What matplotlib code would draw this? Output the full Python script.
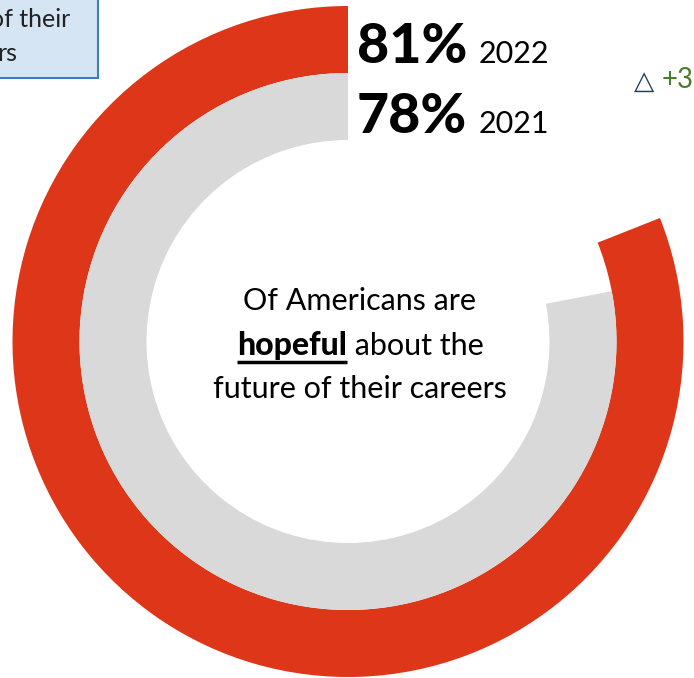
"""
Career outlook donut - share of Americans hopeful about their careers
"""
import matplotlib
matplotlib.use('Agg')
import matplotlib.pyplot as plt
from matplotlib.patches import Wedge, Rectangle

# Survey results (percent hopeful), outer ring first
years = ['2022', '2021']
values = [81, 78]
ring_colors = ['#de3619', '#d9d9d9']
delta_label = '+3'

W, H = 694, 678
fig = plt.figure(figsize=(W / 100, H / 100), dpi=100)
ax = fig.add_axes([0, 0, 1, 1])
ax.set_xlim(0, W)
ax.set_ylim(0, H)
ax.axis('off')

# ring geometry (pixels)
cx, cy = 348, H - 341.5
radii = [335.5, 268.5]
ring_w = 67

for val, r, col in zip(values, radii, ring_colors):
    # start at 12 o'clock and sweep counterclockwise
    ax.add_patch(Wedge((cx, cy), r, 90, 90 + val / 100 * 360,
                       width=ring_w, facecolor=col, edgecolor='none'))

renderer = fig.canvas.get_renderer()

def width_of(t):
    bb = t.get_window_extent(renderer)
    return bb.width

LIGHT = 'normal'

# value labels beside the ring tops
for i, (yr, val) in enumerate(zip(years, values)):
    base_y = H - (63 + i * 70)
    t = ax.text(357, base_y, f'{val}%', fontsize=40, fontweight='black',
                family='Lato', va='baseline', ha='left', color='black')
    w = width_of(t)
    ax.text(357 + w + 11, base_y, yr, fontsize=22, fontweight=LIGHT,
            family='Lato', va='baseline', ha='left', color='black')

# change indicator
ax.text(634, H - 89, '\u25B3', fontsize=19,
        family='DejaVu Sans', va='baseline', ha='left', color='#1e3d59')
ax.text(662, H - 88, delta_label, fontsize=20, fontweight=LIGHT,
        family='Lato', va='baseline', ha='left', color='#4b7b2b')

# centre caption
tx = 360
fs = 22
ax.text(tx, H - 310, 'Of Americans are', fontsize=fs, fontweight=LIGHT,
        family='Lato', va='baseline', ha='center', color='black')
ax.text(tx, H - 398, 'future of their careers', fontsize=fs, fontweight=LIGHT,
        family='Lato', va='baseline', ha='center', color='black')

hb = ax.text(0, H - 355, 'hopeful', fontsize=fs + 1, fontweight='black',
             family='Lato', va='baseline', ha='left', color='black')
rest = ax.text(0, H - 355, ' about the', fontsize=fs, fontweight=LIGHT,
               family='Lato', va='baseline', ha='left', color='black')
w1, w2 = width_of(hb), width_of(rest)
x0 = tx - (w1 + w2) / 2
hb.set_x(x0)
rest.set_x(x0 + w1)
ax.plot([x0, x0 + w1], [H - 362, H - 362], color='black', lw=2.5,
        solid_capstyle='butt')

# callout box in the corner
ax.add_patch(Rectangle((-5, H - 78), 103, 90, facecolor='#d6e5f4',
                       edgecolor='#3d7cc0', lw=1.5))
ax.text(70, H - 27, 'of their', fontsize=18, fontweight=LIGHT,
        family='Lato', va='baseline', ha='right', color='#222222')
ax.text(17, H - 61, 'rs', fontsize=18, fontweight=LIGHT,
        family='Lato', va='baseline', ha='right', color='#222222')

fig.savefig('out.png', dpi=100, facecolor='white')
